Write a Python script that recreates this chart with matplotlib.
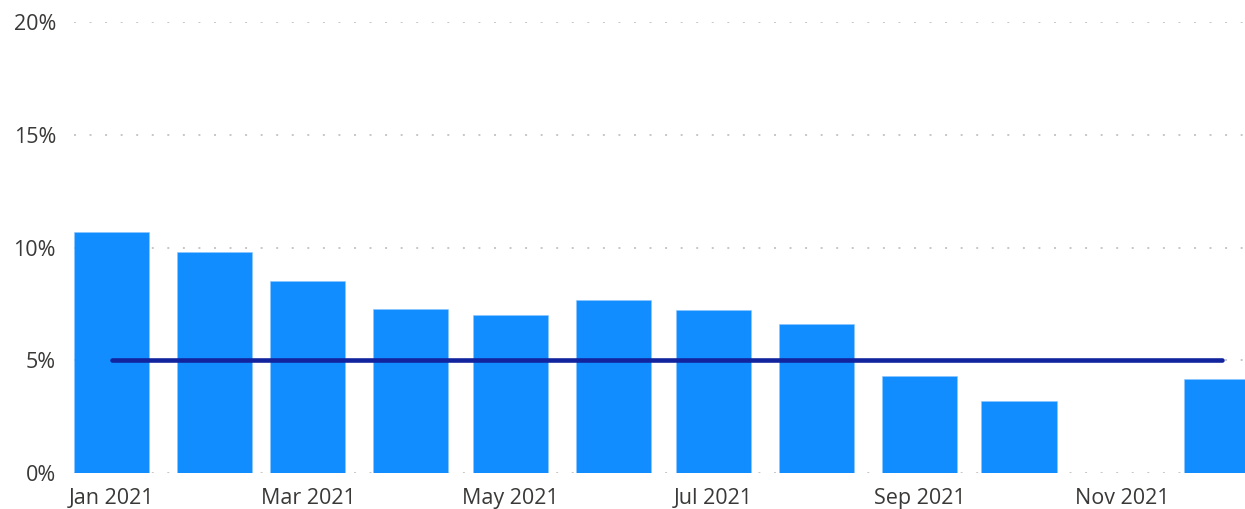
import matplotlib
matplotlib.use("Agg")
import matplotlib.pyplot as plt
import matplotlib.dates as mdates
from matplotlib.ticker import FuncFormatter, FixedLocator
import numpy as np
import datetime as dt

months = ["2021-01-01", "2021-02-01", "2021-03-01", "2021-04-01", "2021-05-01", "2021-06-01",
          "2021-07-01", "2021-08-01", "2021-09-01", "2021-10-01", "2021-11-01", "2021-12-01"]
values = [10.68, 9.79, 8.53, 7.26, 7.01, 7.67, 7.23, 6.62, 4.30, 3.19, 0.0, 4.17]
target = [5.0] * 12
y_ticks = [0, 5, 10, 15, 20]
x_tick_months = ["2021-01-01", "2021-03-01", "2021-05-01", "2021-07-01", "2021-09-01", "2021-11-01"]

plt.rcParams['font.family'] = ['Open Sans', 'DejaVu Sans']
text_color = "#3A3938"

dates = [dt.datetime.strptime(m, "%Y-%m-%d") for m in months]
xnum = mdates.date2num(dates)

fig = plt.figure(figsize=(12.45, 5.09), dpi=100)
ax = fig.add_axes([74 / 1245, 1 - 473 / 509, 1 - 74 / 1245, (473 - 22) / 509])

ax.bar(xnum, values, width=22.6, color="#118DFF", edgecolor="#8CC6FF", linewidth=0.4, zorder=2)
ax.plot(xnum, target, color="#12239E", linewidth=3.3, solid_capstyle="round", zorder=3)

ax.set_ylim(0, 20)
left = mdates.date2num(dt.datetime(2021, 1, 1)) - 11.4
right = mdates.date2num(dt.datetime(2021, 1, 1)) + 341
ax.set_xlim(left, right)

ax.yaxis.set_major_locator(FixedLocator(y_ticks))
ax.yaxis.set_major_formatter(FuncFormatter(lambda v, p: f"{v:.0f}%"))
ticks = mdates.date2num([dt.datetime.strptime(m, "%Y-%m-%d") for m in x_tick_months])
ax.set_xticks(ticks)
ax.set_xticklabels([dt.datetime.strptime(m, "%Y-%m-%d").strftime("%b %Y") for m in x_tick_months])

ax.grid(axis="y", color="#C8C6C4", linewidth=1.4, linestyle=(0, (1, 7)), zorder=0)
ax.set_axisbelow(True)
for s in ax.spines.values():
    s.set_visible(False)
ax.tick_params(axis="both", length=0, labelsize=15.5, colors=text_color)
ax.tick_params(axis="y", pad=13)
ax.tick_params(axis="x", pad=11)

fig.savefig("out.png", dpi=100)
